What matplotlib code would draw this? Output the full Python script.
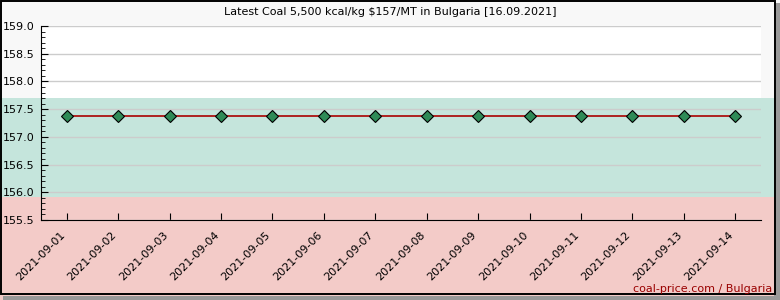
import matplotlib.pyplot as plt
import matplotlib.transforms as mtransforms
from matplotlib.patches import Rectangle

dates = ["2021-09-01", "2021-09-02", "2021-09-03", "2021-09-04", "2021-09-05",
         "2021-09-06", "2021-09-07", "2021-09-08", "2021-09-09", "2021-09-10",
         "2021-09-11", "2021-09-12", "2021-09-13", "2021-09-14"]
prices = [157.37] * 14
band_low = 155.92
band_high = 157.7
title = "Latest Coal 5,500 kcal/kg \\$157/MT in Bulgaria [16.09.2021]"
credit = "coal-price.com / Bulgaria"

W, H = 780, 300
fig = plt.figure(figsize=(W / 100, H / 100), dpi=100, facecolor="#f8f8f8")
ax = fig.add_axes([41 / W, 1 - 220 / H, (761 - 41) / W, (220 - 26) / H])
ax.set_facecolor("none")

x = list(range(len(dates)))
ax.set_xlim(-0.5, len(dates) - 0.5)
ax.set_ylim(155.5, 159.0)

# background bands: white plot area, green band, red band across full width
blend = mtransforms.blended_transform_factory(fig.transFigure, ax.transData)
ax.add_patch(Rectangle((0, band_high), 1, 159.0 - band_high, transform=ax.get_yaxis_transform(),
                       facecolor="white", edgecolor="none", zorder=-3))
ax.add_patch(Rectangle((0, band_low), 1, band_high - band_low, transform=blend,
                       facecolor="#c5e5dc", edgecolor="none", zorder=-2, clip_on=False))
ax.add_patch(Rectangle((0, 150), 1, band_low - 150, transform=blend,
                       facecolor="#f3cbc8", edgecolor="none", zorder=-2, clip_on=False))

ax.plot(x, prices, color="#aa0000", lw=1.2, marker="D", markersize=6,
        markerfacecolor="#2e8b57", markeredgecolor="black", markeredgewidth=0.8, zorder=3)

ax.set_yticks([155.5, 156.0, 156.5, 157.0, 157.5, 158.0, 158.5, 159.0])
ax.set_yticks([155.5 + 0.1 * i for i in range(36)], minor=True)
ax.yaxis.grid(True, color="#cccccc", lw=1)
ax.set_axisbelow(True)
ax.set_xticks(x)
ax.set_xticklabels(dates, rotation=45, ha="right", va="bottom", rotation_mode="anchor")

for s in ["top", "right"]:
    ax.spines[s].set_visible(False)
ax.tick_params(axis="y", which="major", direction="in", length=5, pad=27.4, labelsize=8)
ax.tick_params(axis="y", which="minor", direction="in", length=3)
ax.tick_params(axis="x", direction="in", length=5, pad=12, labelsize=8)
for lbl in ax.get_yticklabels():
    lbl.set_horizontalalignment("left")

fig.text(0.5, 1 - 12 / H, title, ha="center", va="center", fontsize=8)
fig.text(772 / W, 1 - 289 / H, credit, ha="right", va="center", fontsize=8, color="#990000")

# frame with shadow
fig.add_artist(Rectangle((3 / W, 0), (W - 3) / W, 4 / H, transform=fig.transFigure,
                         facecolor="#999999", edgecolor="none"))
fig.add_artist(Rectangle(((W - 6) / W, 0), 6 / W, (H - 3) / H, transform=fig.transFigure,
                         facecolor="#999999", edgecolor="none"))
fig.add_artist(Rectangle((0.5 / W, 6 / H), (W - 6) / W, (H - 6.5) / H, transform=fig.transFigure,
                         facecolor="none", edgecolor="black", lw=1.4))

fig.savefig("out.png", dpi=100, facecolor=fig.get_facecolor())
